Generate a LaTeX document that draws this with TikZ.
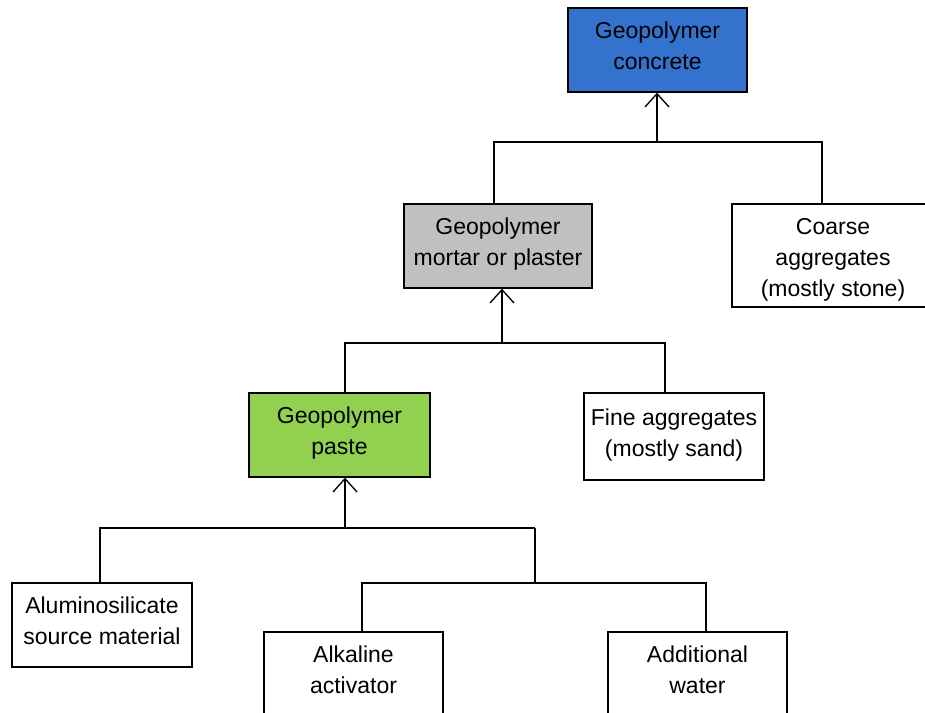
\documentclass[tikz,border=0pt]{standalone}
\usepackage{fontspec}
\setmainfont{Liberation Sans}
\usetikzlibrary{arrows.meta}
\definecolor{cblue}{RGB}{51,115,206}
\definecolor{cgray}{RGB}{192,192,192}
\definecolor{cgreen}{RGB}{146,208,80}
\begin{document}
\begin{tikzpicture}[x=0.75pt,y=-0.75pt,
  box/.style={draw, line width=1pt, inner sep=0pt, align=center, fill=white,
    text depth=6.5pt,
    font=\fontsize{17.25}{23.25}\selectfont},
  conn/.style={line width=1pt},
  arr/.style={line width=1pt, -{Straight Barb[length=10pt,width=18pt,line width=1pt]}}]
\useasboundingbox (0,0) rectangle (925,713);
\clip (0,0) rectangle (925,713);
\fill[white] (0,0) rectangle (925,713);

\node[box, fill=cblue, minimum width=134.25pt, minimum height=63pt] (concrete) at (657.5,50) {Geopolymer\\concrete};
\node[box, fill=cgray, minimum width=141pt, minimum height=63pt] (mortar) at (498,246) {Geopolymer\\mortar or plaster};
\node[box, text height=65pt, text depth=3.6pt, minimum width=151.5pt, minimum height=77.25pt] (coarse) at (833,255.5) {Coarse\\aggregates\\(mostly stone)};
\node[box, fill=cgreen, minimum width=135.75pt, minimum height=63pt] (paste) at (339.5,435) {Geopolymer\\paste};
\node[box, minimum width=135pt, minimum height=65.25pt] (fine) at (674,436.5) {Fine aggregates\\(mostly sand)};
\node[box, minimum width=135pt, minimum height=63pt] (alumino) at (102,625) {Aluminosilicate\\source material};
\node[box, minimum width=134.25pt, minimum height=63pt] (alkaline) at (353.5,674) {Alkaline\\activator};
\node[box, minimum width=134.25pt, minimum height=63pt] (water) at (697.5,674) {Additional\\water};

% level 1
\coordinate (a1) at (494,142);
\coordinate (b1) at (822,142);
\coordinate (m1) at (657,142);
\draw[conn] (mortar.north -| a1) -- (a1) -- (b1) -- (coarse.north -| b1);
\draw[arr] (m1) -- (concrete.south -| m1);

% level 2
\coordinate (a2) at (345,343);
\coordinate (b2) at (665,343);
\coordinate (m2) at (502,343);
\draw[conn] (paste.north -| a2) -- (a2) -- (b2) -- (fine.north -| b2);
\draw[arr] (m2) -- (mortar.south -| m2);

% level 3
\coordinate (a3) at (100,528);
\coordinate (b3) at (535,528);
\coordinate (m3) at (345,528);
\draw[conn] (alumino.north -| a3) -- (a3) -- (b3);
\draw[arr] (m3) -- (paste.south -| m3);

% level 4
\coordinate (m4) at (535,583);
\coordinate (a4) at (362,583);
\coordinate (b4) at (706,583);
\draw[conn] (b3) -- (m4);
\draw[conn] (alkaline.north -| a4) -- (a4) -- (b4) -- (water.north -| b4);
\end{tikzpicture}
\end{document}
